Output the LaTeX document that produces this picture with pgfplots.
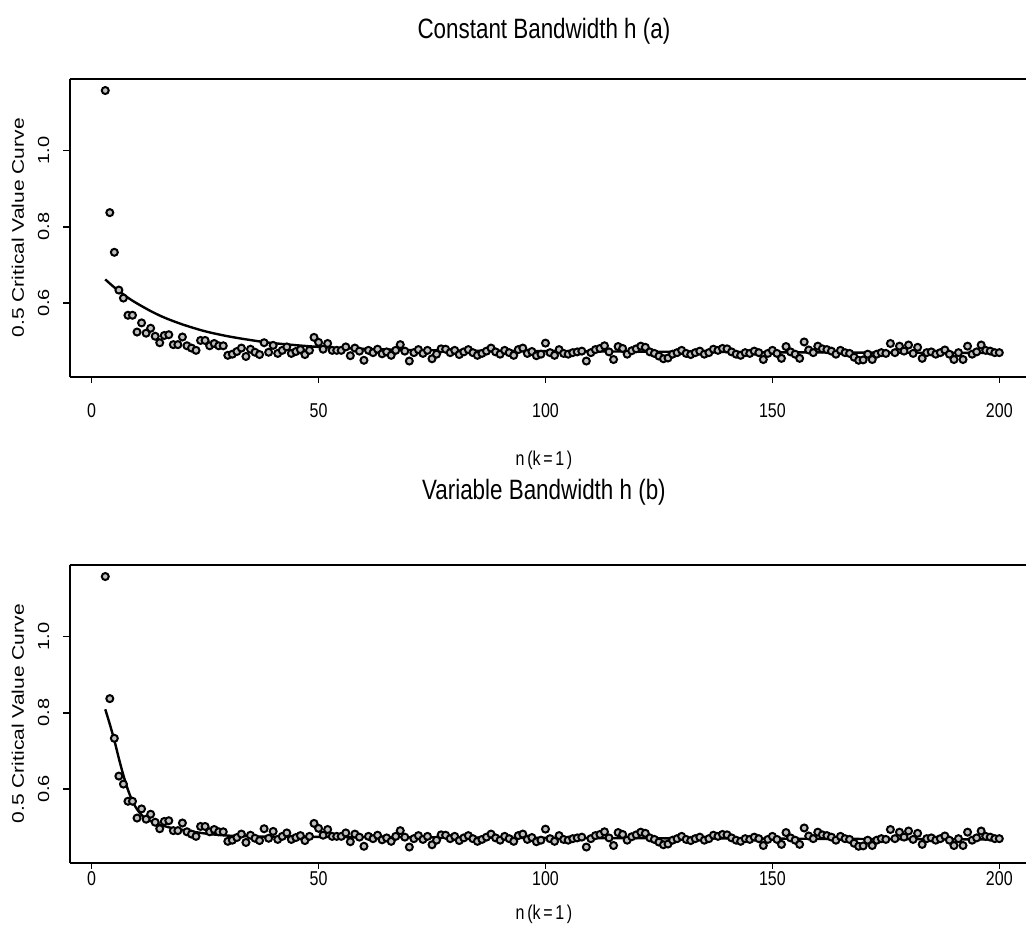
\documentclass[border=0pt]{standalone}
\usepackage{pgfplots}
\pgfplotsset{compat=1.18}
\usepackage{pgfplotstable}
\usepackage{fontspec}
\setmainfont{Liberation Sans}
\newcommand{\hs}[2][0.8]{\scalebox{#1}[1]{#2}}
\newcommand{\vs}[2][0.8]{\scalebox{1}[#1]{#2}}

\pgfplotstableread{
n v
3 1.157
4 0.837
5 0.733
6 0.634
7 0.613
8 0.568
9 0.568
10 0.524
11 0.548
12 0.521
13 0.534
14 0.513
15 0.496
16 0.515
17 0.517
18 0.491
19 0.491
20 0.511
21 0.488
22 0.482
23 0.476
24 0.502
25 0.502
26 0.488
27 0.494
28 0.488
29 0.488
30 0.463
31 0.466
32 0.473
33 0.482
34 0.460
35 0.479
36 0.471
37 0.465
38 0.496
39 0.471
40 0.489
41 0.468
42 0.476
43 0.485
44 0.468
45 0.473
46 0.478
47 0.465
48 0.476
49 0.510
50 0.497
51 0.479
52 0.494
53 0.476
54 0.476
55 0.476
56 0.485
57 0.462
58 0.482
59 0.474
60 0.450
61 0.476
62 0.470
63 0.479
64 0.467
65 0.472
66 0.463
67 0.476
68 0.491
69 0.474
70 0.448
71 0.470
72 0.478
73 0.468
74 0.476
75 0.454
76 0.466
77 0.480
78 0.479
79 0.470
80 0.476
81 0.465
82 0.472
83 0.478
84 0.470
85 0.463
86 0.468
87 0.474
88 0.482
89 0.472
90 0.466
91 0.476
92 0.470
93 0.463
94 0.478
95 0.482
96 0.468
97 0.473
98 0.462
99 0.466
100 0.495
101 0.470
102 0.463
103 0.478
104 0.468
105 0.466
106 0.470
107 0.472
108 0.474
109 0.448
110 0.470
111 0.478
112 0.481
113 0.488
114 0.472
115 0.452
116 0.486
117 0.481
118 0.466
119 0.475
120 0.480
121 0.487
122 0.484
123 0.472
124 0.468
125 0.461
126 0.454
127 0.456
128 0.466
129 0.470
130 0.476
131 0.468
132 0.465
133 0.470
134 0.474
135 0.466
136 0.470
137 0.479
138 0.476
139 0.481
140 0.480
141 0.472
142 0.466
143 0.463
144 0.470
145 0.468
146 0.474
147 0.470
148 0.452
149 0.468
150 0.476
151 0.468
152 0.455
153 0.486
154 0.472
155 0.466
156 0.455
157 0.498
158 0.477
159 0.470
160 0.487
161 0.480
162 0.478
163 0.474
164 0.466
165 0.476
166 0.470
167 0.468
168 0.458
169 0.450
170 0.451
171 0.466
172 0.452
173 0.466
174 0.470
175 0.468
176 0.494
177 0.470
178 0.487
179 0.474
180 0.490
181 0.468
182 0.484
183 0.455
184 0.470
185 0.472
186 0.466
187 0.470
188 0.477
189 0.466
190 0.452
191 0.470
192 0.452
193 0.487
194 0.466
195 0.472
196 0.490
197 0.476
198 0.474
199 0.470
200 0.470
}\pts

\pgfplotstableread{
n v
3 0.662
5 0.641
8 0.614
10 0.599
13 0.579
16 0.562
20 0.544
25 0.526
30 0.513
35 0.503
40 0.495
50 0.485
60 0.480
70 0.477
85 0.475
100 0.474
150 0.471
200 0.469
}\fitA

\pgfplotstableread{
n v
3 0.809
4 0.770
5 0.728
6 0.680
7 0.636
8 0.598
9 0.568
10 0.547
11 0.532
12 0.522
14 0.511
16 0.503
18 0.497
20 0.493
23 0.487
26 0.482
30 0.478
35 0.476
40 0.475
60 0.474
100 0.472
150 0.470
200 0.468
}\fitB

\pgfplotsset{myax/.style={
  scale only axis, width=478.25pt, height=149pt,
  anchor=south west,
  xmin=-4.88, xmax=205.88, ymin=0.407, ymax=1.188,
  axis lines*=left,
  axis line style={-, line width=1pt, black},
  tick align=outside, major tick length=3pt,
  tick style={line width=0.8pt, black},
  xtick={0,50,100,150,200},
  ytick={0.6,0.8,1.0},
  xticklabels={\hs{0},\hs{50},\hs{100},\hs{150},\hs{200}},
  yticklabels={\vs{0.6},\vs{0.8},\vs{1.0}},
  xticklabel style={font=\fontsize{10}{11}\selectfont, anchor=center, inner sep=0pt},
  yticklabel style={font=\fontsize{10}{11}\selectfont, rotate=90, anchor=center, inner sep=0pt},
  yticklabel shift=10pt,
  xlabel={\hs{n\,(k\,=\,1\,)}},
  ylabel={\vs{0.5 Critical Value Curve}},
  ylabel style={at={(axis description cs:-0.054,0.5)}, anchor=center, font=\fontsize{10.5}{11}\selectfont},
  after end axis/.code={\draw[line width=1pt, black] (rel axis cs:0,1) -- (rel axis cs:1,1);},
}}

\begin{document}
\begin{tikzpicture}
\useasboundingbox (0,0) rectangle (513pt,475.5pt);
\begin{axis}[myax, at={(34.75pt,287.15pt)},
  xticklabel shift=14pt,
  title={\hs[0.8]{Constant Bandwidth h (a)}},
  title style={at={(axis description cs:0.496,1)}, anchor=center, yshift=17.5pt, font=\fontsize{14}{15}\selectfont},
  xlabel style={at={(axis description cs:0.496,0)}, anchor=center, yshift=-42pt, font=\fontsize{10}{11}\selectfont}]
\addplot[only marks, mark=*, mark size=1.75pt, mark options={fill=gray!50, draw=black, line width=1pt}] table[x=n, y=v] {\pts};
\addplot[black, line width=1.2pt, smooth] table[x=n, y=v] {\fitA};
\end{axis}
\begin{axis}[myax, at={(34.75pt,44.15pt)},
  xticklabel shift=5pt,
  title={\hs[0.8]{Variable Bandwidth h (b)}},
  title style={at={(axis description cs:0.496,1)}, anchor=center, yshift=30pt, font=\fontsize{14}{15}\selectfont},
  xlabel style={at={(axis description cs:0.496,0)}, anchor=center, yshift=-26pt, font=\fontsize{10}{11}\selectfont}]
\addplot[only marks, mark=*, mark size=1.75pt, mark options={fill=gray!50, draw=black, line width=1pt}] table[x=n, y=v] {\pts};
\addplot[black, line width=1.2pt, smooth] table[x=n, y=v] {\fitB};
\end{axis}
\end{tikzpicture}
\end{document}
